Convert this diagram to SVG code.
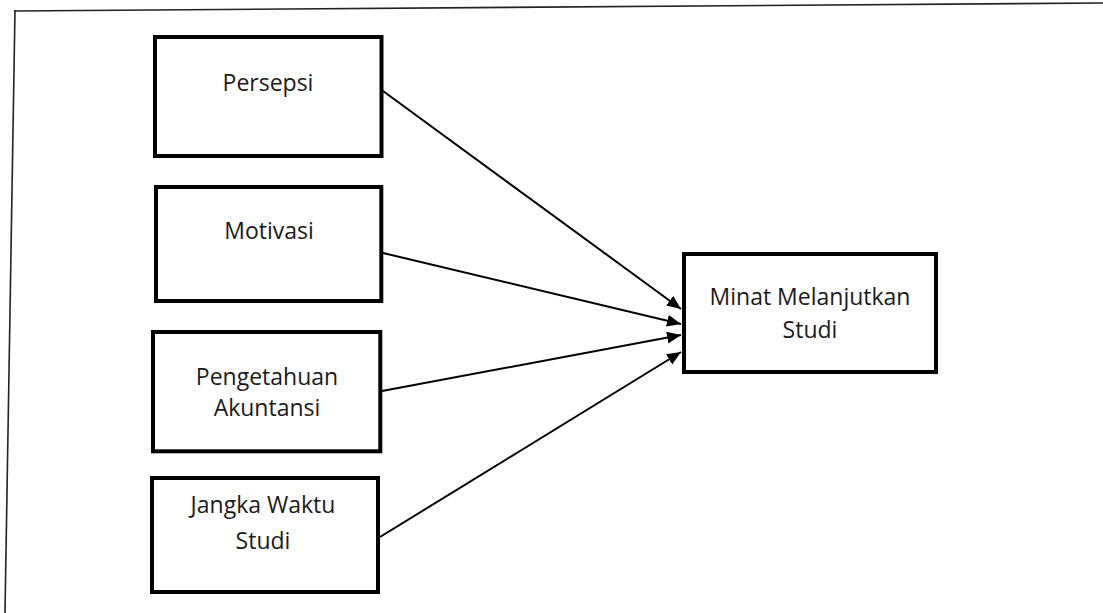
<svg xmlns="http://www.w3.org/2000/svg" width="1103" height="613" viewBox="0 0 1103 613">
  <style>
    .box { fill: #ffffff; stroke: #000000; stroke-width: 4; }
    .lbl { font-family: "Open Sans", "Liberation Sans", sans-serif; font-size: 23px; fill: #1a1a1a; text-anchor: middle; }
    .conn { stroke: #000000; stroke-width: 2; fill: none; marker-end: url(#arr); }
    .frame { stroke: #222222; stroke-width: 1.6; fill: none; }
  </style>
  <defs>
    <marker id="arr" markerUnits="userSpaceOnUse" markerWidth="16" markerHeight="14" refX="14" refY="6" orient="auto">
      <path d="M0,0 L14,6 L0,12 Z" fill="#000000"/>
    </marker>
  </defs>
  <rect width="1103" height="613" fill="#ffffff"/>
  <g id="frame">
    <line class="frame" x1="14" y1="11" x2="1103" y2="3"/>
    <line class="frame" x1="15" y1="10" x2="5" y2="613"/>
  </g>
  <g id="connectors">
    <line class="conn" x1="383" y1="91" x2="681" y2="309"/>
    <line class="conn" x1="383" y1="253" x2="681" y2="324"/>
    <line class="conn" x1="382" y1="391" x2="681" y2="335"/>
    <line class="conn" x1="380" y1="537" x2="681" y2="352"/>
  </g>
  <g id="persepsi">
    <rect class="box" x="155" y="37" width="226.5" height="119"/>
    <text class="lbl" x="268" y="91">Persepsi</text>
  </g>
  <g id="motivasi">
    <rect class="box" x="156" y="187" width="225.3" height="114"/>
    <text class="lbl" x="269" y="239">Motivasi</text>
  </g>
  <g id="pengetahuan">
    <rect class="box" x="153" y="332" width="227.3" height="119.3"/>
    <text class="lbl" x="267" y="385">Pengetahuan</text>
    <text class="lbl" x="267" y="416">Akuntansi</text>
  </g>
  <g id="jangka">
    <rect class="box" x="152" y="478" width="226" height="114"/>
    <text class="lbl" x="263" y="513">Jangka Waktu</text>
    <text class="lbl" x="263" y="549">Studi</text>
  </g>
  <g id="minat">
    <rect class="box" x="684" y="254" width="252" height="118"/>
    <text class="lbl" x="810" y="305">Minat Melanjutkan</text>
    <text class="lbl" x="810" y="338">Studi</text>
  </g>
</svg>
